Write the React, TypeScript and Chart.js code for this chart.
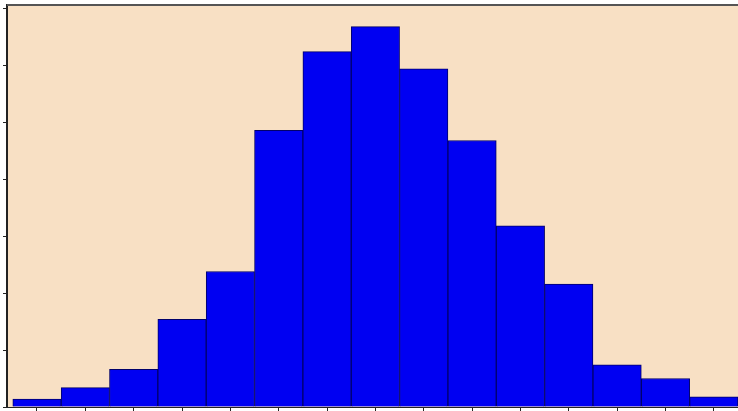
import React, { useEffect, useRef } from "react";
import { Chart, registerables } from "chart.js";

Chart.register(...registerables);

const binIndex = [0, 1, 2, 3, 4, 5, 6, 7, 8, 9, 10, 11, 12, 13, 14];
const counts = [7, 17, 33, 77, 119, 243, 312, 334, 297, 234, 159, 108, 37, 25, 9];
const yTicks = [0, 50, 100, 150, 200, 250, 300, 350];

const BG = "#F8E0C4";
const BAR = "#0000F2";
const EDGE = "#00006A";
const AXIS = "#222222";

const frame = {
  id: "frame",
  beforeDraw(chart: any) {
    const { ctx, chartArea } = chart;
    ctx.save();
    ctx.fillStyle = BG;
    ctx.fillRect(chartArea.left, chartArea.top, chartArea.right - chartArea.left, chartArea.bottom - chartArea.top);
    ctx.restore();
  },
  afterDraw(chart: any) {
    const { ctx, chartArea } = chart;
    ctx.save();
    ctx.strokeStyle = "#555555";
    ctx.lineWidth = 2;
    ctx.beginPath();
    ctx.moveTo(chartArea.left, chartArea.top);
    ctx.lineTo(chartArea.right, chartArea.top);
    ctx.stroke();
    ctx.restore();
  },
};

export default function App() {
  const ref = useRef<HTMLCanvasElement>(null);
  useEffect(() => {
    if (!ref.current) return;
    const chart = new Chart(ref.current, {
      type: "bar",
      data: {
        datasets: [
          {
            data: binIndex.map((x, i) => ({ x, y: counts[i] })),
            backgroundColor: BAR,
            borderColor: EDGE,
            borderWidth: 1,
            barPercentage: 1,
            categoryPercentage: 1,
          },
        ],
      },
      options: {
        responsive: false,
        animation: false,
        devicePixelRatio: 1,
        layout: { padding: { left: 3, top: 5, right: 0, bottom: 0 } },
        plugins: { legend: { display: false }, tooltip: { enabled: false } },
        scales: {
          x: {
            type: "linear",
            offset: false,
            min: -0.62,
            max: 14.5,
            afterBuildTicks: (scale: any) => {
              scale.ticks = binIndex.map((v) => ({ value: v }));
            },
            ticks: { display: false },
            grid: { offset: false, drawOnChartArea: false, drawTicks: true, tickLength: 4, color: AXIS, lineWidth: 1 },
            border: { display: true, color: AXIS, width: 1 },
          },
          y: {
            min: 0,
            max: 353,
            afterBuildTicks: (scale: any) => {
              scale.ticks = yTicks.map((v) => ({ value: v }));
            },
            ticks: { display: false },
            grid: { drawOnChartArea: false, drawTicks: true, tickLength: 4, color: AXIS, lineWidth: 1 },
            border: { display: true, color: AXIS, width: 2 },
          },
        },
      },
      plugins: [frame],
    });
    return () => chart.destroy();
  }, []);
  return (
    <div style={{ position: "absolute", left: 0, top: 0, width: 738, height: 411, overflow: "hidden", background: "#fff" }}>
      <canvas ref={ref} width={738} height={411} style={{ display: "block", width: 738, height: 411 }} />
    </div>
  );
}
